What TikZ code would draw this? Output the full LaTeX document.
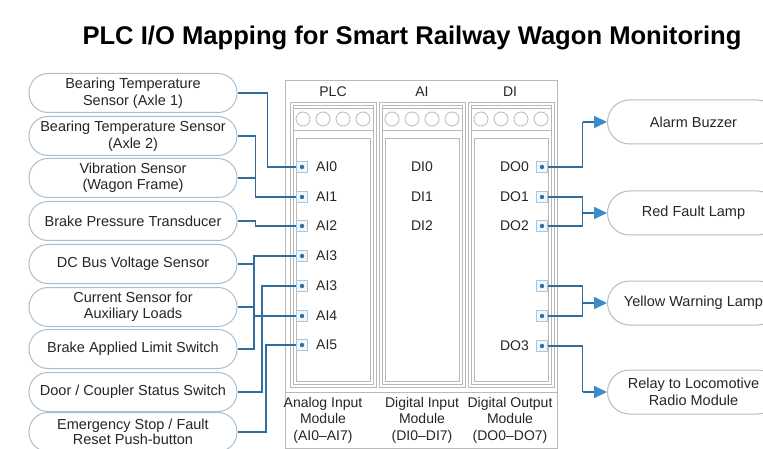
\documentclass[tikz,border=0pt]{standalone}
\usepackage{fontspec}
\setmainfont{Liberation Sans}
\usetikzlibrary{arrows.meta}
\definecolor{wirec}{HTML}{2F6E9E}
\definecolor{tipc}{HTML}{3A8CCB}
\definecolor{boxline}{HTML}{ADBFCC}
\definecolor{framec}{HTML}{B9B9B9}
\definecolor{termline}{HTML}{A8C6DE}
\definecolor{termfill}{HTML}{F2F7FB}
\definecolor{txt}{HTML}{262626}
\begin{document}
\begin{tikzpicture}[x=1pt,y=-1pt,
  lbox/.style={draw=boxline, line width=1pt, fill=white, rounded corners=19pt,
    minimum width=208pt, minimum height=39pt, align=center, inner sep=0pt,
    font=\fontsize{14.5}{16.5}\selectfont, text=txt},
  rbox/.style={draw=boxline, line width=1pt, fill=white, rounded corners=22pt,
    minimum width=172pt, minimum height=44pt, align=center, inner sep=0pt,
    font=\fontsize{14.5}{16.5}\selectfont, text=txt, anchor=west},
  wire/.style={draw=wirec, line width=1.7pt},
  arr/.style={wire, -{Triangle[length=13pt,width=12pt,fill=tipc,color=tipc]}},
  fr/.style={draw=framec, line width=0.8pt},
  term/.style={draw=termline, fill=termfill, line width=0.8pt, minimum size=11pt, inner sep=0pt},
  lab/.style={font=\fontsize{14}{16}\selectfont, text=txt, inner sep=0pt},
  modlab/.style={font=\fontsize{14}{16.5}\selectfont, text=txt, align=center, inner sep=0pt}
]
\useasboundingbox (0,0) rectangle (763,449);
\fill[white] (0,0) rectangle (763,449);
\clip (0,0) rectangle (763,449);

% title
\node[font=\fontsize{25.6}{30}\selectfont\bfseries, text=black] (title) at (412,38)
  {PLC I/O Mapping for Smart Railway Wagon Monitoring};

% PLC frame
\draw[fr] (285,80) rectangle (557,448);
\node[lab] (hplc) at (333,92) {PLC};
\node[lab] (hai) at (422,92) {AI};
\node[lab] (hdi) at (510,92) {DI};
\foreach \l/\r in {290/376, 379/465, 468/554} {
  \draw[fr] (\l,102) rectangle (\r,387);
  \draw[fr] (\l+3,105) rectangle (\r-3,384);
  \draw[fr] (\l+3,108) -- (\r-3,108);
  \draw[fr] (\l+3,130) -- (\r-3,130);
  \foreach \i in {0,...,3} \draw[fr] (\l+13+20*\i,119) circle (7);
  \draw[fr] (\l+6,138) rectangle (\r-6,381);
}
\draw[fr] (285,392) -- (557,392);
\node[modlab] (m1) at (323,420) {Analog Input\\Module\\(AI0–AI7)};
\node[modlab] (m2) at (422,420) {Digital Input\\Module\\(DI0–DI7)};
\node[modlab] (m3) at (510,420) {Digital Output\\Module\\(DO0–DO7)};

% analog terminals
\foreach \n/\y/\t in {a0/167/AI0, a1/197/AI1, a2/226/AI2, a3/256/AI3, a3b/286/AI3, a4/316/AI4, a5/345/AI5} {
  \node[term] (\n) at (302,\y) {};
  \fill[wirec] (\n.center) circle (2.2);
  \node[lab, anchor=west] (\n t) at (316,\y) {\t};
}
% digital inputs
\node[lab] (di0) at (422,167) {DI0};
\node[lab] (di1) at (422,197) {DI1};
\node[lab] (di2) at (422,226) {DI2};
% digital outputs
\foreach \n/\y in {d0/167, d1/197, d2/226, d4/286, d5/316, d3/346} {
  \node[term] (\n) at (542,\y) {};
  \fill[wirec] (\n.center) circle (2.2);
}
\node[lab, anchor=east] (d0t) at (529,167) {DO0};
\node[lab, anchor=east] (d1t) at (529,197) {DO1};
\node[lab, anchor=east] (d2t) at (529,226) {DO2};
\node[lab, anchor=east] (d3t) at (529,346) {DO3};

% left sensor boxes
\node[lbox] (L1) at (133,93) {Bearing Temperature\\Sensor (Axle 1)};
\node[lbox] (L2) at (133,136) {Bearing Temperature Sensor\\(Axle 2)};
\node[lbox] (L3) at (133,178) {Vibration Sensor\\(Wagon Frame)};
\node[lbox] (L4) at (133,221) {Brake Pressure Transducer};
\node[lbox] (L5) at (133,264) {DC Bus Voltage Sensor};
\node[lbox] (L6) at (133,307) {Current Sensor for\\Auxiliary Loads};
\node[lbox] (L7) at (133,349) {Brake Applied Limit Switch};
\node[lbox] (L8) at (133,392) {Door / Coupler Status Switch};
\node[lbox, font=\fontsize{14.5}{15.5}\selectfont] (L9) at (133,432) {Emergency Stop / Fault\\Reset Push-button};

% right actuator boxes
\node[rbox] (R1) at (607,122) {Alarm Buzzer};
\node[rbox] (R2) at (607,213) {Red Fault Lamp};
\node[rbox] (R3) at (607,303) {Yellow Warning Lamp};
\node[rbox] (R4) at (607,392) {Relay to Locomotive\\Radio Module};

% left wiring
\coordinate (va) at (254,0);
\coordinate (vb) at (262,0);
\coordinate (vc) at (266,0);
\draw[wire] (L1.east) -- ++(30,0) |- (a0.west);
\draw[wire] (L2.east) -- ++(18,0) |- (a1.west);
\draw[wire] (L3.east) -- ++(18,0);
\draw[wire] (L4.east) -- ++(18,0) |- (a2.west);
\draw[wire] (L5.east) -| (va |- a3.west) -- (a3.west);
\draw[wire] (L6.east) -- (va |- L6.east);
\draw[wire] (L7.east) -| (va |- L5.east);
\draw[wire] (va |- a4.west) -- (a4.west);
\draw[wire] (L8.east) -| (vb |- a3b.west) -- (a3b.west);
\draw[wire] (L9.east) -| (vc |- a5.west) -- (a5.west);

% right wiring
\coordinate (bus) at (582.5,0);
\draw[wire] (d0.east) -| (bus |- R1.west);
\draw[arr] (bus |- R1.west) -- (R1.west);
\draw[wire] (d1.east) -| (bus |- d2.east) -- (d2.east);
\draw[arr] (bus |- R2.west) -- (R2.west);
\draw[wire] (d4.east) -| (bus |- d5.east) -- (d5.east);
\draw[arr] (bus |- R3.west) -- (R3.west);
\draw[wire] (d3.east) -| (bus |- R4.west);
\draw[arr] (bus |- R4.west) -- (R4.west);
\end{tikzpicture}
\end{document}
